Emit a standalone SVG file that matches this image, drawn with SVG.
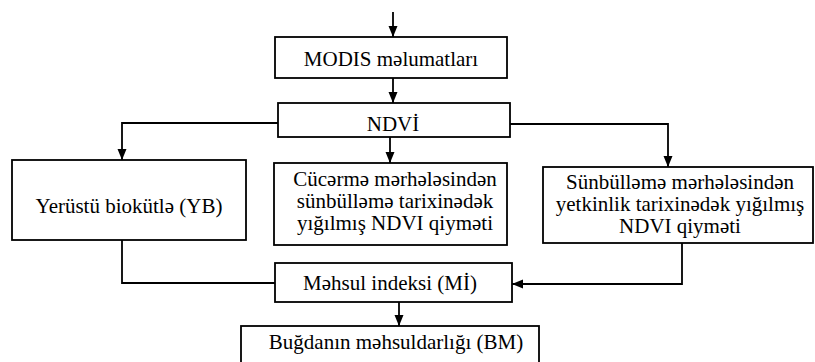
<svg xmlns="http://www.w3.org/2000/svg" width="815" height="362" viewBox="0 0 815 362">
<style>
.box{fill:#fff;stroke:#000;stroke-width:1.8}
.t{font-family:"Liberation Serif","Times New Roman",serif;font-size:21px;fill:#000;text-anchor:middle}
.c{fill:none;stroke:#000;stroke-width:1.8}
</style>
<defs>
<marker id="ah" markerUnits="userSpaceOnUse" markerWidth="12" markerHeight="10" refX="11" refY="4.5" orient="auto">
<path d="M0,0 L11,4.5 L0,9 z" fill="#000"/>
</marker>
</defs>
<rect width="815" height="362" fill="#fff"/>
<g id="connectors">
<path class="c" d="M393,12 V37" marker-end="url(#ah)"/>
<path class="c" d="M393,78 V103" marker-end="url(#ah)"/>
<path class="c" d="M278,123 H122 V160" marker-end="url(#ah)"/>
<path class="c" d="M390,137 V163" marker-end="url(#ah)"/>
<path class="c" d="M510,124 H668 V167" marker-end="url(#ah)"/>
<path class="c" d="M122,240 V283 H275"/>
<path class="c" d="M682,243 V284 H512" marker-end="url(#ah)"/>
<path class="c" d="M399,302 V326" marker-end="url(#ah)"/>
</g>
<g id="modis">
<rect class="box" x="275" y="37" width="232" height="41"/>
<text class="t" x="391" y="66">MODIS məlumatları</text>
</g>
<g id="ndvi">
<rect class="box" x="278" y="103" width="232" height="34"/>
<text class="t" x="393" y="131">NDVİ</text>
</g>
<g id="yb">
<rect class="box" x="12" y="160" width="234" height="80"/>
<text class="t" x="129" y="213">Yerüstü biokütlə (YB)</text>
</g>
<g id="cucerme">
<rect class="box" x="274" y="163" width="233" height="82"/>
<text class="t" x="395" y="186">Cücərmə mərhələsindən</text>
<text class="t" x="395" y="208">sünbülləmə tarixinədək</text>
<text class="t" x="395" y="230">yığılmış NDVI qiyməti</text>
</g>
<g id="sunbulleme">
<rect class="box" x="543" y="167" width="270" height="76"/>
<text class="t" x="680" y="189">Sünbülləmə mərhələsindən</text>
<text class="t" x="680" y="211">yetkinlik tarixinədək yığılmış</text>
<text class="t" x="680" y="233">NDVI qiyməti</text>
</g>
<g id="mi">
<rect class="box" x="275" y="263" width="237" height="39"/>
<text class="t" x="390" y="290">Məhsul indeksi (Mİ)</text>
</g>
<g id="bm">
<rect class="box" x="241" y="326" width="298" height="42"/>
<text class="t" x="396" y="349">Buğdanın məhsuldarlığı (BM)</text>
</g>
</svg>
